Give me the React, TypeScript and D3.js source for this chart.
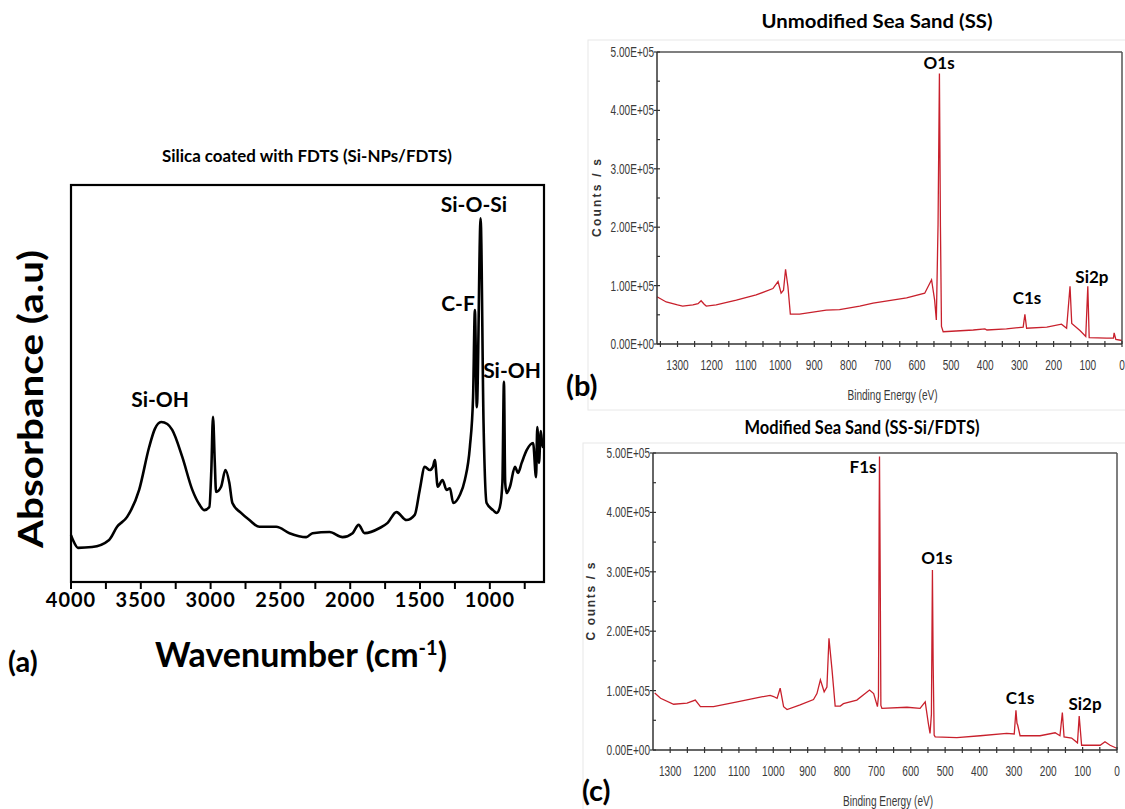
import React from "react";
import * as d3 from "d3";

const width = 1125;
const height = 809;

// ---- (a) FTIR spectrum ----
const ftirWavenumber = [
  4000, 3985, 3950, 3849, 3727, 3670, 3598, 3512, 3440, 3400, 3354, 3310, 3275, 3203, 3131, 3080,
  3045, 3009, 2995, 2983, 2970, 2961, 2925, 2894, 2866, 2844, 2782, 2722, 2650, 2530, 2435, 2315,
  2270, 2148, 2055, 1983, 1940, 1897, 1789, 1732, 1669, 1597, 1538, 1502, 1466, 1430, 1408, 1394,
  1373, 1339, 1310, 1286, 1262, 1215, 1179, 1143, 1120, 1107, 1093, 1066, 1045, 1023, 977, 951,
  928, 910, 899, 890, 880, 856, 820, 798, 772, 736, 690, 669, 660, 648, 635, 622, 612,
];
const ftirAbsorbance = [
  11.8, 10.5, 8.6, 8.8, 10.6, 13.9, 16.4, 23.2, 34, 38.5, 40.3, 39.8, 38.3, 31.5, 23.2, 19.5,
  18.1, 18.9, 28, 41.6, 30, 22.7, 24, 28.2, 25, 19.9, 17.4, 15.6, 13.9, 13.9, 12.3, 11.3,
  12.3, 12.6, 11.3, 12.3, 14.4, 12.3, 13.6, 14.9, 17.6, 15.6, 16.9, 23.2, 29, 28.2, 29, 30.7,
  24, 25.7, 23.2, 23.6, 19.9, 21.9, 25.7, 34, 46.6, 68.5, 44, 91.6, 40, 19.9, 18.1, 17.4,
  18.9, 25, 50.4, 25, 22.4, 24, 29, 27.5, 30, 33.2, 35, 26.4, 39, 30, 38, 34, 34,
];
const ftirTickLabels = [4000, 3500, 3000, 2500, 2000, 1500, 1000];
const ftirLabelText = ["Si-O-Si", "C-F", "Si-OH", "Si-OH"];
const ftirLabelWn = [1114, 1228, 841, 3362];
const ftirLabelAbs = [93.2, 68.3, 51.4, 44.1];

// ---- (b) XPS unmodified sea sand ----
const ssEnergy = [
  1360, 1333, 1300, 1285, 1255, 1240, 1231, 1222, 1216, 1187, 1128, 1070, 1021, 1006, 997, 990,
  984, 977, 970, 943, 865, 826, 767, 728, 630, 577, 557, 548, 543, 538, 534, 531, 528, 523, 435,
  401, 395, 338, 289, 284, 279, 220, 177, 162, 152, 147, 123, 106, 100, 96, 45, 25, 23, 18, 0,
];
const ssCounts = [
  0.81, 0.72, 0.67, 0.65, 0.67, 0.69, 0.74, 0.68, 0.65, 0.67, 0.75, 0.84, 0.95, 1.07, 0.87, 0.92,
  1.28, 0.98, 0.51, 0.51, 0.58, 0.59, 0.65, 0.7, 0.79, 0.87, 1.1, 0.75, 0.41, 2.05, 4.63, 2.0, 0.3,
  0.21, 0.24, 0.26, 0.24, 0.26, 0.29, 0.51, 0.27, 0.29, 0.34, 0.27, 0.99, 0.35, 0.23, 0.13, 0.99,
  0.11, 0.1, 0.1, 0.19, 0.08, 0.06,
];
const ssLabelText = ["O1s", "C1s", "Si2p"];
const ssLabelEnergy = [535, 278, 88];
const ssLabelCounts = [4.71, 0.685, 1.045];

// ---- (c) XPS modified sea sand ----
const fdtsEnergy = [
  1345, 1328, 1290, 1251, 1227, 1212, 1174, 1105, 1038, 1009, 999, 989, 980, 970, 960, 922, 883,
  873, 863, 852, 844, 838, 829, 820, 805, 796, 757, 720, 708, 697, 694, 692, 691, 689, 687, 684,
  611, 573, 558, 549, 544, 540, 537, 535, 532, 529, 466, 398, 321, 299, 294, 291, 289, 282, 224,
  180, 166, 159, 154, 132, 115, 110, 103, 49, 35, 20, 1,
];
const fdtsCounts = [
  0.96, 0.87, 0.77, 0.79, 0.84, 0.73, 0.73, 0.81, 0.89, 0.92, 0.9, 0.87, 1.04, 0.73, 0.68, 0.76,
  0.85, 0.95, 1.18, 0.98, 1.06, 1.88, 1.34, 0.74, 0.74, 0.78, 0.84, 1.01, 0.95, 0.73, 0.9, 4.0,
  4.94, 3.0, 0.75, 0.7, 0.72, 0.7, 0.81, 0.45, 0.28, 0.6, 3.03, 1.5, 0.25, 0.22, 0.21, 0.24, 0.28,
  0.27, 0.67, 0.45, 0.42, 0.24, 0.24, 0.29, 0.24, 0.63, 0.22, 0.2, 0.12, 0.57, 0.08, 0.08, 0.14,
  0.08, 0.03,
];
const fdtsLabelText = ["F1s", "O1s", "C1s", "Si2p"];
const fdtsLabelEnergy = [739, 524, 282, 93];
const fdtsLabelCounts = [4.66, 3.13, 0.77, 0.67];

const xpsEnergyLabels = [1300, 1200, 1100, 1000, 900, 800, 700, 600, 500, 400, 300, 200, 100, 0];
const xpsCountTicks = [0, 1, 2, 3, 4, 5];
const xpsCountLabels = ["0.00E+00", "1.00E+05", "2.00E+05", "3.00E+05", "4.00E+05", "5.00E+05"];

const boldFont = "Lato, 'Open Sans', sans-serif";
const plainFont = "'Liberation Sans', Arial, sans-serif";

// squeezed text, to look like the narrow font of the instrument software
const Narrow = ({ x, y, anchor, size, children }: any) => (
  <text
    transform={`translate(${x},${y}) scale(0.72,1)`}
    textAnchor={anchor}
    fontFamily={plainFont}
    fontSize={size}
    fill="#3a3a3a"
  >
    {children}
  </text>
);

const FtirPanel = () => {
  const x = d3.scaleLinear().domain([4000, 612]).range([71, 544]);
  const y = d3.scaleLinear().domain([0, 100]).range([582, 185]);
  const line = d3
    .line<number>()
    .x((_, i) => x(ftirWavenumber[i]))
    .y((d) => y(d))
    .curve(d3.curveMonotoneX);
  const minor = d3.range(4000, 611, -250);
  return (
    <g>
      <text x={307} y={162} textAnchor="middle" fontFamily={boldFont} fontWeight="bold" fontSize={17} textLength={290} lengthAdjust="spacingAndGlyphs">
        Silica coated with FDTS (Si-NPs/FDTS)
      </text>
      <path d={line(ftirAbsorbance) || ""} fill="none" stroke="#000" strokeWidth={2.6} strokeLinejoin="round" />
      <rect x={71} y={185} width={473} height={397} fill="none" stroke="#000" strokeWidth={2.2} />
      {minor.map((t) => (
        <line key={t} x1={x(t)} x2={x(t)} y1={582} y2={589} stroke="#000" strokeWidth={2} />
      ))}
      {ftirTickLabels.map((t) => (
        <text key={t} x={x(t)} y={607} textAnchor="middle" fontFamily={boldFont} fontWeight="bold" fontSize={20} letterSpacing={1}>
          {t}
        </text>
      ))}
      {ftirLabelText.map((s, i) => (
        <text key={i} x={x(ftirLabelWn[i])} y={y(ftirLabelAbs[i])} textAnchor="middle" fontFamily={boldFont} fontWeight="bold" fontSize={21}>
          {s}
        </text>
      ))}
      <text x={301} y={667} textAnchor="middle" fontFamily={boldFont} fontWeight="bold" fontSize={34} textLength={292} lengthAdjust="spacingAndGlyphs">
        Wavenumber (cm
        <tspan dy={-12} fontSize={20}>-1</tspan>
        <tspan dy={12}>)</tspan>
      </text>
      <text transform="translate(43,399) rotate(-90)" textAnchor="middle" fontFamily={boldFont} fontWeight="bold" fontSize={34} textLength={298} lengthAdjust="spacingAndGlyphs">
        Absorbance (a.u)
      </text>
      <text x={8} y={672} fontFamily={boldFont} fontWeight="bold" fontSize={29}>
        (a)
      </text>
    </g>
  );
};

type XpsProps = {
  energy: number[];
  counts: number[];
  labelText: string[];
  labelEnergy: number[];
  labelCounts: number[];
  maxEnergy: number;
  left: number;
  right: number;
  top: number;
  bottom: number;
  title: string;
  titleX: number;
  titleY: number;
  titleW: number;
  tag: string;
  tagX: number;
  tagY: number;
  countsTitle: string;
  countsX: number;
  frame: [number, number, number, number];
};

const XpsPanel = (p: XpsProps) => {
  const x = d3.scaleLinear().domain([p.maxEnergy, 0]).range([p.left, p.right]);
  const y = d3.scaleLinear().domain([0, 5]).range([p.bottom, p.top]);
  const line = d3
    .line<number>()
    .x((_, i) => x(p.energy[i]))
    .y((d) => y(d));
  const xMinor = d3.range(0, p.maxEnergy, 50);
  const yMinor = d3.range(0.5, 5, 1);
  const midY = (p.top + p.bottom) / 2;
  const midX = (p.left + p.right) / 2;
  return (
    <g>
      <rect x={p.frame[0]} y={p.frame[1]} width={p.frame[2]} height={p.frame[3]} fill="none" stroke="#e8e8e8" strokeWidth={1} />
      <text x={p.titleX} y={p.titleY} textAnchor="middle" fontFamily={boldFont} fontWeight="bold" fontSize={18} textLength={p.titleW} lengthAdjust="spacingAndGlyphs">
        {p.title}
      </text>
      <path d={line(p.counts) || ""} fill="none" stroke="#c8202c" strokeWidth={1.3} />
      <line x1={p.left} x2={p.right} y1={p.top} y2={p.top} stroke="#555" strokeWidth={1.5} />
      <line x1={p.right} x2={p.right} y1={p.top} y2={p.bottom} stroke="#555" strokeWidth={1.5} />
      <line x1={p.left} x2={p.left} y1={p.top} y2={p.bottom} stroke="#333" strokeWidth={1.5} />
      <line x1={p.left} x2={p.right} y1={p.bottom} y2={p.bottom} stroke="#333" strokeWidth={1.5} />
      {xMinor.map((t) => (
        <line key={t} x1={x(t)} x2={x(t)} y1={p.bottom - 3} y2={p.bottom + 3} stroke="#333" strokeWidth={1.2} />
      ))}
      {xpsEnergyLabels.map((t) => (
        <Narrow key={t} x={x(t)} y={p.bottom + 26} anchor="middle" size={14}>
          {t}
        </Narrow>
      ))}
      {yMinor.map((t) => (
        <line key={t} x1={p.left} x2={p.left + 3} y1={y(t)} y2={y(t)} stroke="#333" strokeWidth={1.2} />
      ))}
      {xpsCountTicks.map((t, i) => (
        <g key={t}>
          <line x1={p.left - 3} x2={p.left + 3} y1={y(t)} y2={y(t)} stroke="#333" strokeWidth={1.2} />
          <Narrow x={p.left - 3} y={y(t) + 5} anchor="end" size={14}>
            {xpsCountLabels[i]}
          </Narrow>
        </g>
      ))}
      {p.labelText.map((s, i) => (
        <text key={i} x={x(p.labelEnergy[i])} y={y(p.labelCounts[i])} textAnchor="middle" fontFamily={boldFont} fontWeight="bold" fontSize={17}>
          {s}
        </text>
      ))}
      <Narrow x={midX + 3} y={p.bottom + 56} anchor="middle" size={14}>
        Binding Energy (eV)
      </Narrow>
      <text transform={`translate(${p.countsX},${midY}) rotate(-90)`} textAnchor="middle" fontFamily={plainFont} fontWeight="bold" fontSize={12} textLength={78} lengthAdjust="spacing" fill="#333">
        {p.countsTitle}
      </text>
      <text x={p.tagX} y={p.tagY} fontFamily={boldFont} fontWeight="bold" fontSize={29}>
        {p.tag}
      </text>
    </g>
  );
};

export default function App() {
  return (
    <svg width={width} height={height} style={{ position: "absolute", left: 0, top: 0, background: "#fff" }}>
      <rect width={width} height={height} fill="#fff" />
      <FtirPanel />
      <XpsPanel
        energy={ssEnergy}
        counts={ssCounts}
        labelText={ssLabelText}
        labelEnergy={ssLabelEnergy}
        labelCounts={ssLabelCounts}
        maxEnergy={1360}
        left={657}
        right={1122}
        top={52}
        bottom={344}
        title="Unmodified Sea Sand (SS)"
        titleX={877}
        titleY={28}
        titleW={231}
        tag="(b)"
        tagX={566}
        tagY={396}
        countsTitle="Counts / s"
        countsX={601}
        frame={[588, 40, 540, 370]}
      />
      <XpsPanel
        energy={fdtsEnergy}
        counts={fdtsCounts}
        labelText={fdtsLabelText}
        labelEnergy={fdtsLabelEnergy}
        labelCounts={fdtsLabelCounts}
        maxEnergy={1350}
        left={653}
        right={1117}
        top={453}
        bottom={750}
        title="Modified Sea Sand (SS-Si/FDTS)"
        titleX={862}
        titleY={434}
        titleW={235}
        tag="(c)"
        tagX={582}
        tagY={801}
        countsTitle="C ounts / s"
        countsX={595}
        frame={[583, 443, 545, 370]}
      />
    </svg>
  );
}
